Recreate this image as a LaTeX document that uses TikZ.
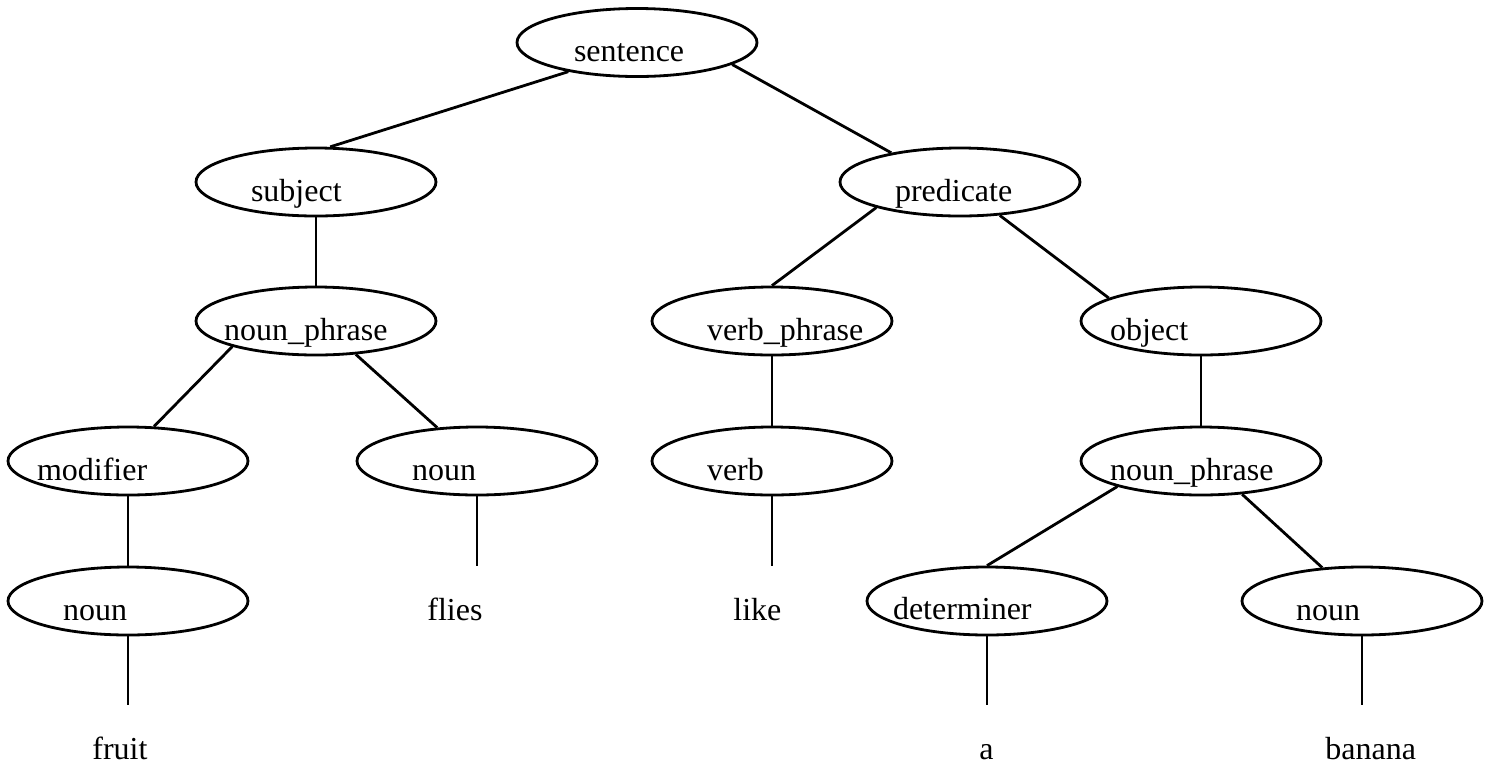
\documentclass[tikz,border=0pt]{standalone}
\usepackage{fontspec}
\setmainfont{Liberation Serif}
\usetikzlibrary{shapes.geometric}

\tikzset{
  cat/.style={ellipse,draw,line width=1.4pt,minimum width=120pt,minimum height=34pt,inner sep=0pt},
  lbl/.style={anchor=base west,inner sep=0pt,font=\fontsize{16}{19}\selectfont},
  leaf/.style={anchor=base west,inner sep=0pt,text height=27pt,font=\fontsize{16}{19}\selectfont},
  link/.style={line width=1.4pt}
}

\begin{document}
\begin{tikzpicture}[x=0.5pt,y=-0.5pt]
    \useasboundingbox (0,0) rectangle (1496,767);

    % categories
    \node[cat] (sent)  at (637,42.5) {};
    \node[cat] (subj)  at (316,182) {};
    \node[cat] (pred)  at (960,182) {};
    \node[cat] (np1)   at (316,321) {};
    \node[cat] (vp)    at (772,321) {};
    \node[cat] (obj)   at (1201,321) {};
    \node[cat] (mod)   at (128,461) {};
    \node[cat] (noun1) at (477,461) {};
    \node[cat] (verb)  at (772,461) {};
    \node[cat] (np2)   at (1201,461) {};
    \node[cat] (noun2) at (128,601) {};
    \node[cat] (det)   at (987,601) {};
    \node[cat] (noun3) at (1362,601) {};

    % their texts
    \node[lbl] (sent-t)  at ([xshift=29pt,yshift=-9.5pt]sent.west) {sentence};
    \node[lbl] (subj-t)  at ([xshift=28pt,yshift=-9.5pt]subj.west) {subject};
    \node[lbl] (pred-t)  at ([xshift=28pt,yshift=-9.5pt]pred.west) {predicate};
    \node[lbl] (np1-t)   at ([xshift=14.5pt,yshift=-9.5pt]np1.west) {noun\_phrase};
    \node[lbl] (vp-t)    at ([xshift=28pt,yshift=-9.5pt]vp.west) {verb\_phrase};
    \node[lbl] (obj-t)   at ([xshift=15pt,yshift=-9.5pt]obj.west) {object};
    \node[lbl] (mod-t)   at ([xshift=15pt,yshift=-9.5pt]mod.west) {modifier};
    \node[lbl] (noun1-t) at ([xshift=28pt,yshift=-9.5pt]noun1.west) {noun};
    \node[lbl] (verb-t)  at ([xshift=28pt,yshift=-9.5pt]verb.west) {verb};
    \node[lbl] (np2-t)   at ([xshift=15pt,yshift=-9.5pt]np2.west) {noun\_phrase};
    \node[lbl] (noun2-t) at ([xshift=28pt,yshift=-9.5pt]noun2.west) {noun};
    \node[lbl] (det-t)   at ([xshift=13.5pt,yshift=-9pt]det.west) {determiner};
    \node[lbl] (noun3-t) at ([xshift=27.5pt,yshift=-9.5pt]noun3.west) {noun};

    % words
    \node[leaf] (fruit)  at (92,759) {fruit};
    \node[leaf] (flies)  at (427,620) {flies};
    \node[leaf] (like)   at (733,620) {like};
    \node[leaf] (a)      at (979,759) {a};
    \node[leaf] (banana) at (1325,759) {banana};

    \draw[link] (sent.203.5) -- (subj.68.1);
    \draw[link] (sent.347.1) -- (pred.157);
    \draw[link] (subj.south) -- (np1.north);
    \draw[link] (pred.197.1) -- (vp.north);
    \draw[link] (pred.320.5) -- (obj.166.8);
    \draw[link] (np1.197.1) -- (mod.53.8);
    \draw[link] (np1.320.5) -- (noun1.140.5);
    \draw[link] (vp.south) -- (verb.north);
    \draw[link] (obj.south) -- (np2.north);
    \draw[link] (np2.197.4) -- (det.north);
    \draw[link] (np2.321.2) -- (noun3.140.5);
    \draw[link] (mod.south) -- (noun2.north);
    \draw[link] (noun1.south) -- (noun1.south |- flies.north);
    \draw[link] (verb.south) -- (verb.south |- like.north);
    \draw[link] (noun2.south) -- (noun2.south |- fruit.north);
    \draw[link] (det.south) -- (det.south |- a.north);
    \draw[link] (noun3.south) -- (noun3.south |- banana.north);
\end{tikzpicture}
\end{document}
